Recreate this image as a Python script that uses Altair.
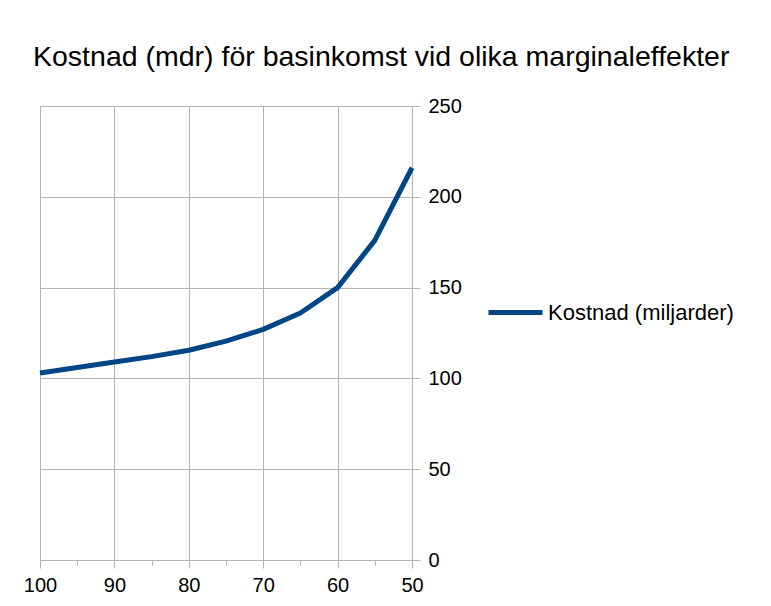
import altair as alt
import pandas as pd

# Data
marginal = [100, 95, 90, 85, 80, 75, 70, 65, 60, 55, 50]
cost = [103, 106, 109, 112, 115.5, 120.5, 127, 136, 150, 176, 216]
series_name = "Kostnad (miljarder)"
x_major = [100, 90, 80, 70, 60, 50]
x_minor = [95, 85, 75, 65, 55]
y_ticks = [0, 50, 100, 150, 200, 250]

df = pd.DataFrame({"m": marginal, "k": cost, "s": [series_name] * len(marginal)})
minor_df = pd.DataFrame({"m": x_minor})

FONT = "Liberation Sans"
GRID = "#b3b3b3"

xscale = alt.Scale(domain=[50, 100], reverse=True, nice=False, zero=False)
yscale = alt.Scale(domain=[0, 250], nice=False)

minor = alt.Chart(minor_df).mark_point(opacity=0).encode(
    x=alt.X("m:Q", scale=xscale,
            axis=alt.Axis(orient="bottom", values=x_minor, title=None, grid=False,
                          labels=False, domain=False, tickColor=GRID, tickSize=5)),
)

line = alt.Chart(df).mark_line(strokeWidth=5, strokeJoin="round").encode(
    x=alt.X("m:Q", scale=xscale,
            axis=alt.Axis(orient="bottom", values=x_major, title=None, grid=True,
                          gridColor=GRID, domainColor=GRID, tickColor=GRID, tickSize=8,
                          labelPadding=7, labelFontSize=20, labelFont=FONT,
                          labelColor="#000000", labelFlush=False, format="d")),
    y=alt.Y("k:Q", scale=yscale,
            axis=alt.Axis(orient="right", values=y_ticks, title=None, grid=True,
                          gridColor=GRID, domainColor=GRID, tickColor=GRID,
                          tickSize=8, labelPadding=8, labelFontSize=20, labelFont=FONT,
                          labelColor="#000000", labelFlush=False)),
    color=alt.Color("s:N", scale=alt.Scale(range=["#004586"]),
                    legend=alt.Legend(title=None, orient="none", legendX=446, legendY=177,
                                      symbolType="stroke", symbolSize=2916,
                                      symbolStrokeWidth=5, labelFontSize=22,
                                      labelFont=FONT, labelColor="#000000",
                                      labelOffset=3, labelLimit=400)),
)

chart = alt.layer(line, minor).resolve_axis(x="independent").properties(
    width=372,
    height=454,
    autosize=alt.AutoSizeParams(type="none"),
    padding={"left": 32, "top": 98, "right": 351, "bottom": 38},
    background="#ffffff",
    title=alt.TitleParams("Kostnad (mdr) för basinkomst vid olika marginaleffekter",
                          anchor="start", frame="group", dx=-7, dy=42, offset=44,
                          baseline="alphabetic", fontSize=28.5, font=FONT,
                          fontWeight="normal", color="#000000"),
).configure_view(stroke=None)

chart.save("out.html", embed_options={"renderer": "svg", "actions": False})
